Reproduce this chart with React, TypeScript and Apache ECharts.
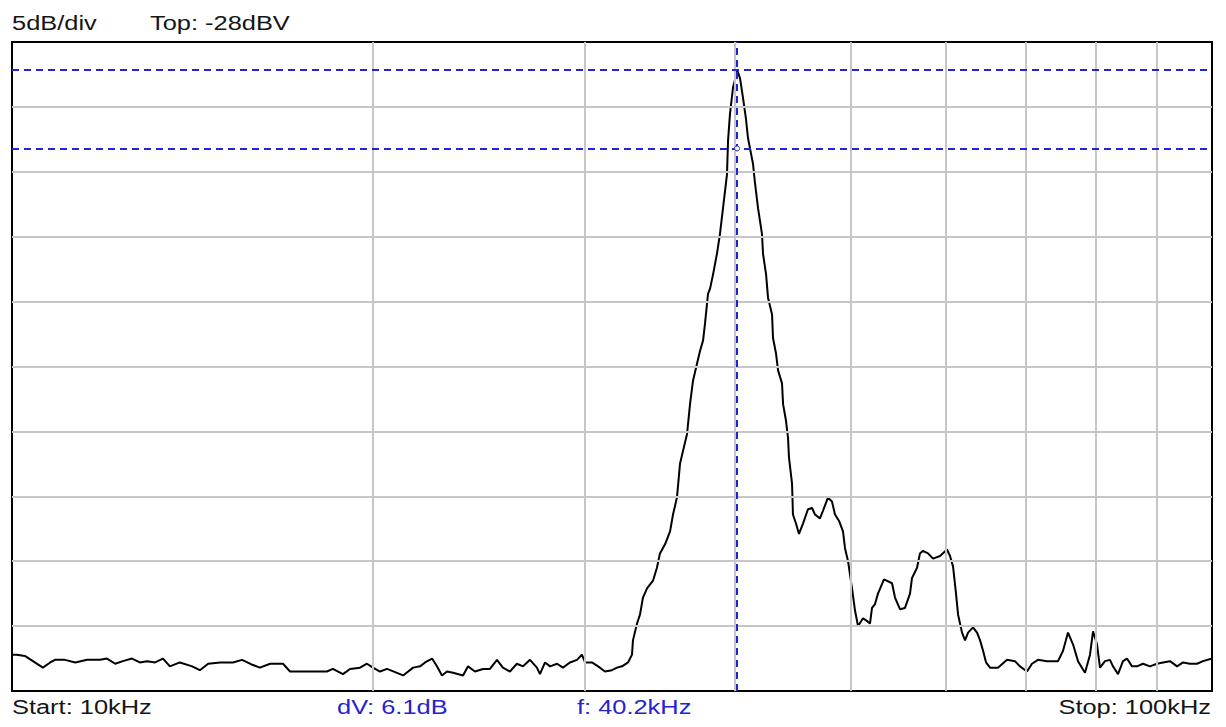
import { useEffect, useRef } from "react";
import * as echarts from "echarts";

// Frequency of each trace point (kHz) and measured level (dBV)
const freqKHz = [
  10.0, 10.09, 10.25, 10.41, 10.61, 10.76, 10.86, 11.07, 11.29, 11.55,
  11.84, 12.0, 12.19, 12.37, 12.59, 12.78, 12.96, 13.16, 13.36, 13.54,
  13.8, 14.13, 14.34, 14.57, 14.91, 15.28, 15.55, 15.88, 16.09, 16.41,
  16.82, 17.05, 17.61, 18.3, 18.51, 18.87, 19.13, 19.5, 19.76, 19.99,
  20.26, 20.54, 20.93, 21.18, 21.59, 21.88, 22.09, 22.39, 22.6, 22.82,
  23.04, 23.31, 23.76, 23.99, 24.31, 24.69, 25.02, 25.36, 25.65, 26.0,
  26.35, 26.66, 27.02, 27.38, 27.54, 27.81, 28.08, 28.46, 28.78, 29.17,
  29.57, 29.85, 30.03, 30.43, 30.79, 31.2, 31.62, 31.93, 32.24, 32.61,
  32.86, 32.92, 33.18, 33.37, 33.56, 33.82, 34.21, 34.47, 34.67, 35.01,
  35.35, 35.55, 35.82, 36.03, 36.24, 36.52, 36.73, 36.94, 37.22, 37.44,
  37.66, 37.8, 38.02, 38.17, 38.39, 38.68, 38.9, 39.13, 39.43, 39.51,
  39.66, 39.89, 40.12, 40.19, 40.43, 40.66, 40.89, 41.05, 41.29, 41.45,
  41.61, 41.85, 42.17, 42.25, 42.5, 42.66, 42.99, 43.07, 43.32, 43.49,
  43.82, 43.91, 44.16, 44.33, 44.41, 44.67, 44.75, 45.01, 45.27, 45.62,
  46.06, 46.42, 46.68, 47.13, 47.41, 47.86, 48.23, 48.51, 48.89, 49.26,
  49.45, 49.74, 50.12, 50.41, 50.7, 51.19, 51.58, 51.88, 52.08, 52.38,
  52.68, 53.29, 54.12, 54.43, 54.95, 55.48, 56.02, 56.23, 56.78, 57.1,
  57.43, 57.99, 58.55, 59.34, 60.14, 60.49, 60.84, 61.19, 61.43, 61.9,
  62.26, 62.62, 63.22, 63.71, 64.08, 64.45, 64.82, 65.31, 66.32, 67.48,
  68.52, 69.18, 70.12, 70.79, 71.61, 72.86, 74.42, 75.14, 75.86, 76.59,
  77.33, 78.37, 79.13, 79.59, 80.2, 80.66, 81.44, 82.22, 82.7, 83.5,
  84.3, 84.95, 85.77, 86.6, 87.6, 88.78, 89.99, 91.03, 92.26, 93.51,
  94.59, 95.87, 97.16, 98.29, 100.0,
];

const levelDBV = [
  -75.2, -75.2, -75.3, -75.7, -76.2, -75.8, -75.6, -75.6, -75.8, -75.6,
  -75.6, -75.5, -75.9, -75.7, -75.5, -75.8, -75.7, -75.8, -75.5, -76.1,
  -75.8, -76.1, -76.4, -75.9, -75.8, -75.8, -75.6, -76.0, -76.2, -75.9,
  -75.9, -76.5, -76.5, -76.5, -76.3, -76.7, -76.3, -76.2, -75.9, -76.2,
  -76.5, -76.3, -76.6, -76.8, -76.2, -76.1, -75.8, -75.5, -76.1, -76.8,
  -76.5, -76.6, -76.8, -76.1, -76.5, -76.3, -76.3, -75.6, -76.2, -76.5,
  -75.9, -76.1, -75.6, -76.2, -76.7, -75.8, -76.1, -75.9, -76.2, -75.8,
  -75.6, -75.2, -75.8, -75.8, -76.1, -76.5, -76.4, -76.2, -76.1, -75.8,
  -75.2, -74.1, -72.8, -72.1, -70.8, -70.1, -69.5, -68.5, -67.4, -66.7,
  -65.7, -64.4, -63.1, -60.5, -59.5, -58.2, -55.9, -54.1, -52.8, -51.8,
  -51.0, -49.7, -47.4, -47.0, -45.9, -44.3, -42.8, -40.8, -38.2, -35.6,
  -33.5, -31.5, -30.6, -30.1, -30.8, -32.3, -33.9, -35.4, -36.6, -37.4,
  -38.9, -40.8, -42.8, -44.3, -45.9, -47.7, -49.0, -50.8, -52.0, -53.3,
  -54.3, -55.9, -57.2, -58.5, -60.0, -62.0, -64.4, -65.1, -65.9, -65.1,
  -64.0, -63.9, -64.4, -64.7, -64.1, -63.1, -63.4, -64.4, -64.9, -65.7,
  -67.0, -68.0, -70.1, -71.8, -73.0, -72.4, -72.6, -72.8, -71.6, -71.3,
  -70.5, -69.4, -69.7, -70.8, -71.7, -71.6, -70.5, -69.3, -68.5, -67.4,
  -67.2, -67.4, -67.8, -67.6, -67.1, -67.6, -68.4, -70.5, -72.1, -73.5,
  -74.1, -73.5, -73.1, -73.5, -74.1, -74.9, -75.8, -76.2, -76.2, -75.6,
  -75.7, -76.1, -76.5, -75.9, -75.6, -75.7, -75.7, -74.9, -73.5, -74.4,
  -75.7, -76.6, -75.2, -73.4, -74.4, -76.2, -75.7, -75.6, -76.1, -76.7,
  -75.7, -75.5, -76.1, -76.1, -75.9, -76.1, -75.9, -75.8, -75.7, -76.1,
  -75.8, -75.9, -75.9, -75.7, -75.5,
];

// Axis ranges and grid divisions
const startKHz = 10;
const stopKHz = 100;
const topDBV = -28;
const bottomDBV = -78;
const verticalGridKHz = [20, 30, 40, 50, 60, 70, 80, 90];
const horizontalGridDBV = [-33, -38, -43, -48, -53, -58, -63, -68, -73];

// Cursor readouts
const cursorFreqKHz = 40.2;
const cursorLevelsDBV = [-30.1, -36.2];

// Text labels
const headerLabels = ["5dB/div", "Top: -28dBV"];
const footerLeftLabel = "Start: 10kHz";
const footerCursorLabels = ["dV: 6.1dB", "f: 40.2kHz"];
const footerRightLabel = "Stop: 100kHz";

const CURSOR_BLUE = "#2424cc";
const TEXT_FONT = '20px "Liberation Sans", Arial, sans-serif';
const SX = 1.27;

export default function App() {
  const ref = useRef<HTMLDivElement>(null);

  useEffect(() => {
    if (!ref.current) return;
    const chart = echarts.init(ref.current, undefined, { renderer: "svg" });
    const trace = freqKHz.map((f, i) => [f, levelDBV[i]]);

    const textEl = (
      text: string,
      x: number,
      y: number,
      color: string,
      align: string
    ) => ({
      type: "text",
      x,
      y,
      scaleX: SX,
      silent: true,
      style: {
        text,
        font: TEXT_FONT,
        fill: color,
        textAlign: align,
        textVerticalAlign: "middle",
      },
    });

    chart.setOption({
      animation: false,
      backgroundColor: "#ffffff",
      grid: {
        left: 12,
        top: 42,
        width: 1200,
        height: 649,
        show: true,
        borderColor: "#000000",
        borderWidth: 2,
        backgroundColor: "#ffffff",
        containLabel: false,
      },
      xAxis: {
        type: "log",
        logBase: 10,
        min: startKHz,
        max: stopKHz,
        axisLine: { show: false },
        axisTick: { show: false },
        axisLabel: { show: false },
        splitLine: { show: false },
      },
      yAxis: {
        type: "value",
        min: bottomDBV,
        max: topDBV,
        axisLine: { show: false },
        axisTick: { show: false },
        axisLabel: { show: false },
        splitLine: { show: false },
      },
      series: [
        {
          name: "grid",
          type: "line",
          data: [],
          z: 1,
          silent: true,
          markLine: {
            silent: true,
            animation: false,
            symbol: ["none", "none"],
            label: { show: false },
            lineStyle: { color: "#c6c6c6", width: 2, type: "solid" },
            data: [
              ...verticalGridKHz.map((v) => ({ xAxis: v })),
              ...horizontalGridDBV.map((v) => ({ yAxis: v })),
            ],
          },
        },
        {
          name: "spectrum",
          type: "line",
          data: trace,
          z: 3,
          showSymbol: false,
          symbol: "none",
          smooth: false,
          lineStyle: { color: "#000000", width: 2 },
          silent: true,
        },
        {
          name: "cursor",
          type: "line",
          data: [],
          z: 5,
          silent: true,
          markLine: {
            silent: true,
            animation: false,
            symbol: ["none", "none"],
            label: { show: false },
            lineStyle: { color: CURSOR_BLUE, width: 2, type: [7, 5] },
            data: [
              { xAxis: cursorFreqKHz },
              ...cursorLevelsDBV.map((v) => ({ yAxis: v })),
            ],
          },
          markPoint: {
            silent: true,
            animation: false,
            label: { show: false },
            data: [
              {
                coord: [cursorFreqKHz, cursorLevelsDBV[1]],
                symbol: "circle",
                symbolSize: 5,
                itemStyle: {
                  color: "#ffffff",
                  borderColor: CURSOR_BLUE,
                  borderWidth: 1,
                },
              },
            ],
          },
        },
      ],
      graphic: [
        textEl(headerLabels[0], 12, 23, "#151515", "left"),
        textEl(headerLabels[1], 150, 23, "#151515", "left"),
        textEl(footerLeftLabel, 12, 707, "#151515", "left"),
        textEl(footerCursorLabels[0], 337, 707, CURSOR_BLUE, "left"),
        textEl(footerCursorLabels[1], 577, 707, CURSOR_BLUE, "left"),
        textEl(footerRightLabel, 1211, 707, "#151515", "right"),
      ],
    });

    return () => chart.dispose();
  }, []);

  return (
    <div
      ref={ref}
      style={{
        position: "absolute",
        left: 0,
        top: 0,
        width: 1226,
        height: 727,
        background: "#ffffff",
      }}
    />
  );
}
